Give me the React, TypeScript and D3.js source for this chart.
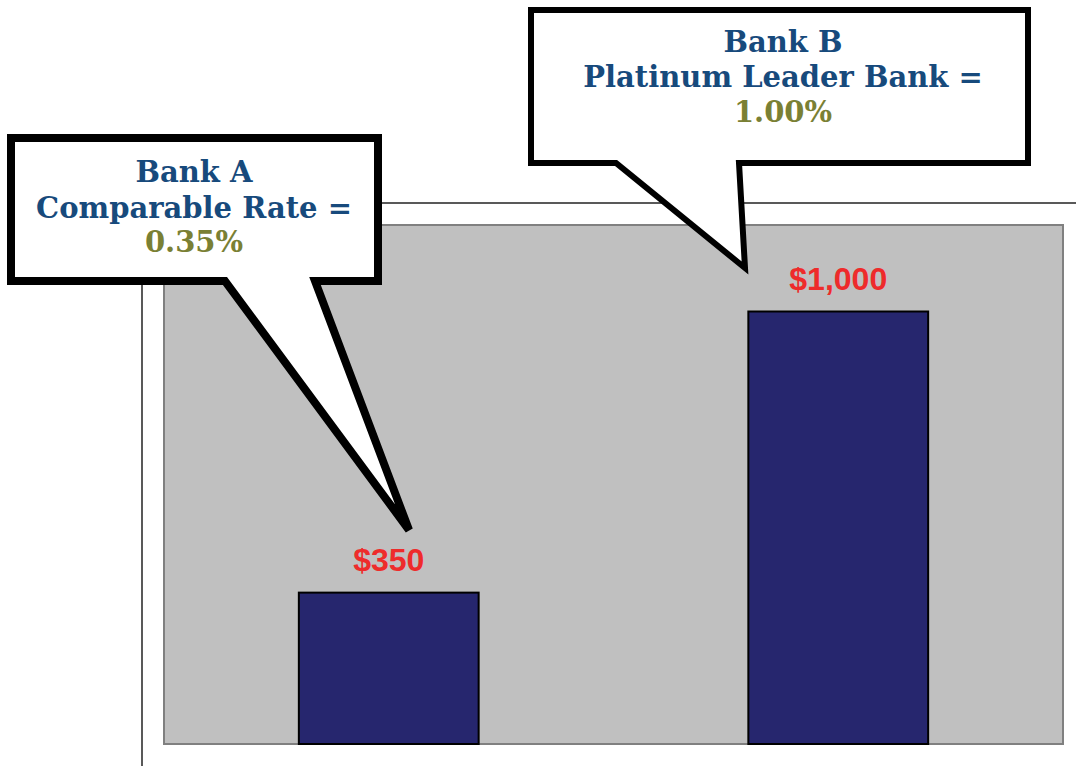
import React from "react";
import * as d3 from "d3";

const categories = ["Bank A", "Bank B"];
const values = [350, 1000];
const valueLabels = ["$350", "$1,000"];
const calloutTitles = [["Bank A", "Comparable Rate ="], ["Bank B", "Platinum Leader Bank ="]];
const calloutRates = ["0.35%", "1.00%"];

const W = 1076;
const H = 766;
const plot = { x0: 164, x1: 1063, y0: 225, y1: 744 };

export default function App() {
  const x = d3
    .scaleBand<string>()
    .domain(categories)
    .range([plot.x0, plot.x1])
    .paddingInner(0.6)
    .paddingOuter(0.3);
  const y = d3.scaleLinear().domain([0, 1200]).range([plot.y1, plot.y0]);

  const callouts = [
    { box: [11, 138, 378, 281], tail: [315, 409, 530, 225], cx: 194, ys: [182, 218, 252], fs: 29, sw: 8 },
    { box: [531, 10, 1028, 163], tail: [739, 745, 268, 616], cx: 783, ys: [52, 87, 122], fs: 29, sw: 6 },
  ];

  const calloutPath = (c: any) => {
    const [l, t, r, b] = c.box;
    const [rb, tx, ty, lb] = c.tail;
    const p = d3.path();
    p.moveTo(l, t);
    p.lineTo(r, t);
    p.lineTo(r, b);
    p.lineTo(rb, b);
    p.lineTo(tx, ty);
    p.lineTo(lb, b);
    p.lineTo(l, b);
    p.closePath();
    return p.toString();
  };

  return (
    <svg width={W} height={H} style={{ position: "absolute", left: 0, top: 0, background: "#fff" }}>
      {/* outer frame */}
      <line x1={142} y1={203} x2={W} y2={203} stroke="#222" strokeWidth={1.5} />
      <line x1={142} y1={203} x2={142} y2={H} stroke="#222" strokeWidth={1.5} />
      {/* plot area */}
      <rect
        x={plot.x0}
        y={plot.y0}
        width={plot.x1 - plot.x0}
        height={plot.y1 - plot.y0}
        fill="#C0C0C0"
        stroke="#808080"
        strokeWidth={2}
      />
      {categories.map((c, i) => (
        <g key={c}>
          <rect
            x={x(c)!}
            y={y(values[i])}
            width={x.bandwidth()}
            height={y(0) - y(values[i])}
            fill="#26266E"
            stroke="#000"
            strokeWidth={2}
          />
          <text
            x={x(c)! + x.bandwidth() / 2}
            y={y(values[i]) - 22}
            textAnchor="middle"
            fontFamily="Liberation Sans, Arial, sans-serif"
            fontWeight="bold"
            fontSize={32}
            fill="#EE2B2B"
          >
            {valueLabels[i]}
          </text>
        </g>
      ))}
      {callouts.map((c, i) => (
        <g key={i}>
          <path d={calloutPath(c)} fill="#fff" stroke="#000" strokeWidth={c.sw} strokeLinejoin="miter" />
          {calloutTitles[i].map((t, j) => (
            <text
              key={j}
              x={c.cx}
              y={c.ys[j]}
              textAnchor="middle"
              fontFamily="DejaVu Serif, serif"
              fontWeight="bold"
              fontSize={c.fs}
              fill="#174A7C"
            >
              {t}
            </text>
          ))}
          <text
            x={c.cx}
            y={c.ys[2]}
            textAnchor="middle"
            fontFamily="DejaVu Serif, serif"
            fontWeight="bold"
            fontSize={c.fs}
            fill="#7A8034"
          >
            {calloutRates[i]}
          </text>
        </g>
      ))}
    </svg>
  );
}
